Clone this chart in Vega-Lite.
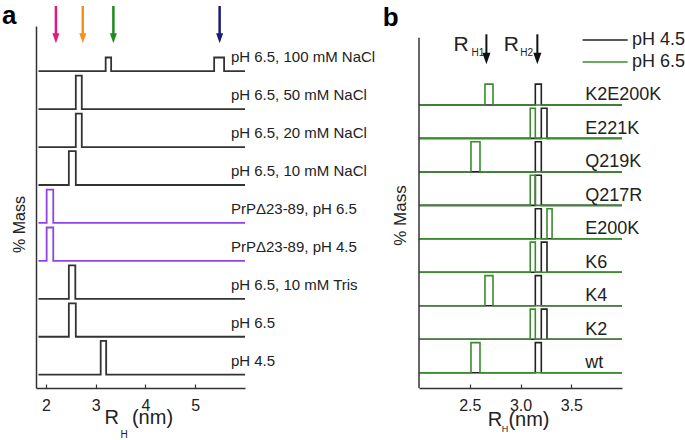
{
"$schema": "https://vega.github.io/schema/vega-lite/v6.json",
"padding": {"left": 1, "top": 3, "right": 0, "bottom": 0},
"background": "white",
"config": {"view": {"stroke": null}, "font": "Liberation Sans", "axis": {"grid": false, "domainColor": "#333", "tickColor": "#333", "labelColor": "#222", "titleColor": "#222", "labelFont": "Liberation Sans", "titleFont": "Liberation Sans"}},
"datasets": {
"tracesA": [
{"s":"pH 6.5, 100 mM NaCl","p":"PrP","i":0,"r":1.85,"y":8},
{"s":"pH 6.5, 100 mM NaCl","p":"PrP","i":1,"r":3.2,"y":8},
{"s":"pH 6.5, 100 mM NaCl","p":"PrP","i":2,"r":3.2,"y":8.36},
{"s":"pH 6.5, 100 mM NaCl","p":"PrP","i":3,"r":3.31,"y":8.36},
{"s":"pH 6.5, 100 mM NaCl","p":"PrP","i":4,"r":3.31,"y":8},
{"s":"pH 6.5, 100 mM NaCl","p":"PrP","i":5,"r":5.38,"y":8},
{"s":"pH 6.5, 100 mM NaCl","p":"PrP","i":6,"r":5.38,"y":8.36},
{"s":"pH 6.5, 100 mM NaCl","p":"PrP","i":7,"r":5.58,"y":8.36},
{"s":"pH 6.5, 100 mM NaCl","p":"PrP","i":8,"r":5.58,"y":8},
{"s":"pH 6.5, 100 mM NaCl","p":"PrP","i":9,"r":6.0,"y":8},
{"s":"pH 6.5, 50 mM NaCl","p":"PrP","i":0,"r":1.85,"y":7},
{"s":"pH 6.5, 50 mM NaCl","p":"PrP","i":1,"r":2.6,"y":7},
{"s":"pH 6.5, 50 mM NaCl","p":"PrP","i":2,"r":2.6,"y":7.88},
{"s":"pH 6.5, 50 mM NaCl","p":"PrP","i":3,"r":2.72,"y":7.88},
{"s":"pH 6.5, 50 mM NaCl","p":"PrP","i":4,"r":2.72,"y":7},
{"s":"pH 6.5, 50 mM NaCl","p":"PrP","i":5,"r":6.0,"y":7},
{"s":"pH 6.5, 20 mM NaCl","p":"PrP","i":0,"r":1.85,"y":6},
{"s":"pH 6.5, 20 mM NaCl","p":"PrP","i":1,"r":2.6,"y":6},
{"s":"pH 6.5, 20 mM NaCl","p":"PrP","i":2,"r":2.6,"y":6.88},
{"s":"pH 6.5, 20 mM NaCl","p":"PrP","i":3,"r":2.72,"y":6.88},
{"s":"pH 6.5, 20 mM NaCl","p":"PrP","i":4,"r":2.72,"y":6},
{"s":"pH 6.5, 20 mM NaCl","p":"PrP","i":5,"r":6.0,"y":6},
{"s":"pH 6.5, 10 mM NaCl","p":"PrP","i":0,"r":1.85,"y":5},
{"s":"pH 6.5, 10 mM NaCl","p":"PrP","i":1,"r":2.46,"y":5},
{"s":"pH 6.5, 10 mM NaCl","p":"PrP","i":2,"r":2.46,"y":5.89},
{"s":"pH 6.5, 10 mM NaCl","p":"PrP","i":3,"r":2.6,"y":5.89},
{"s":"pH 6.5, 10 mM NaCl","p":"PrP","i":4,"r":2.6,"y":5},
{"s":"pH 6.5, 10 mM NaCl","p":"PrP","i":5,"r":6.0,"y":5},
{"s":"PrPΔ23-89, pH 6.5","p":"PrPΔ23-89","i":0,"r":1.85,"y":4},
{"s":"PrPΔ23-89, pH 6.5","p":"PrPΔ23-89","i":1,"r":2.014,"y":4},
{"s":"PrPΔ23-89, pH 6.5","p":"PrPΔ23-89","i":2,"r":2.014,"y":4.88},
{"s":"PrPΔ23-89, pH 6.5","p":"PrPΔ23-89","i":3,"r":2.147,"y":4.88},
{"s":"PrPΔ23-89, pH 6.5","p":"PrPΔ23-89","i":4,"r":2.147,"y":4},
{"s":"PrPΔ23-89, pH 6.5","p":"PrPΔ23-89","i":5,"r":6.0,"y":4},
{"s":"PrPΔ23-89, pH 4.5","p":"PrPΔ23-89","i":0,"r":1.85,"y":3},
{"s":"PrPΔ23-89, pH 4.5","p":"PrPΔ23-89","i":1,"r":2.014,"y":3},
{"s":"PrPΔ23-89, pH 4.5","p":"PrPΔ23-89","i":2,"r":2.014,"y":3.88},
{"s":"PrPΔ23-89, pH 4.5","p":"PrPΔ23-89","i":3,"r":2.147,"y":3.88},
{"s":"PrPΔ23-89, pH 4.5","p":"PrPΔ23-89","i":4,"r":2.147,"y":3},
{"s":"PrPΔ23-89, pH 4.5","p":"PrPΔ23-89","i":5,"r":6.0,"y":3},
{"s":"pH 6.5, 10 mM Tris","p":"PrP","i":0,"r":1.85,"y":2},
{"s":"pH 6.5, 10 mM Tris","p":"PrP","i":1,"r":2.46,"y":2},
{"s":"pH 6.5, 10 mM Tris","p":"PrP","i":2,"r":2.46,"y":2.88},
{"s":"pH 6.5, 10 mM Tris","p":"PrP","i":3,"r":2.59,"y":2.88},
{"s":"pH 6.5, 10 mM Tris","p":"PrP","i":4,"r":2.59,"y":2},
{"s":"pH 6.5, 10 mM Tris","p":"PrP","i":5,"r":6.0,"y":2},
{"s":"pH 6.5","p":"PrP","i":0,"r":1.85,"y":1},
{"s":"pH 6.5","p":"PrP","i":1,"r":2.46,"y":1},
{"s":"pH 6.5","p":"PrP","i":2,"r":2.46,"y":1.88},
{"s":"pH 6.5","p":"PrP","i":3,"r":2.6,"y":1.88},
{"s":"pH 6.5","p":"PrP","i":4,"r":2.6,"y":1},
{"s":"pH 6.5","p":"PrP","i":5,"r":6.0,"y":1},
{"s":"pH 4.5","p":"PrP","i":0,"r":1.85,"y":0},
{"s":"pH 4.5","p":"PrP","i":1,"r":3.1,"y":0},
{"s":"pH 4.5","p":"PrP","i":2,"r":3.1,"y":0.89},
{"s":"pH 4.5","p":"PrP","i":3,"r":3.21,"y":0.89},
{"s":"pH 4.5","p":"PrP","i":4,"r":3.21,"y":0},
{"s":"pH 4.5","p":"PrP","i":5,"r":6.0,"y":0}
],
"tracesB": [
{"s":"K2E200K","pH":"pH 4.5","i":0,"r":2,"y":8},{"s":"K2E200K","pH":"pH 4.5","i":1,"r":3.146,"y":8},{"s":"K2E200K","pH":"pH 4.5","i":2,"r":3.146,"y":8.62},{"s":"K2E200K","pH":"pH 4.5","i":3,"r":3.205,"y":8.62},{"s":"K2E200K","pH":"pH 4.5","i":4,"r":3.205,"y":8},{"s":"K2E200K","pH":"pH 4.5","i":5,"r":4,"y":8},
{"s":"E221K","pH":"pH 4.5","i":0,"r":2,"y":7},{"s":"E221K","pH":"pH 4.5","i":1,"r":3.205,"y":7},{"s":"E221K","pH":"pH 4.5","i":2,"r":3.205,"y":7.9},{"s":"E221K","pH":"pH 4.5","i":3,"r":3.261,"y":7.9},{"s":"E221K","pH":"pH 4.5","i":4,"r":3.261,"y":7},{"s":"E221K","pH":"pH 4.5","i":5,"r":4,"y":7},
{"s":"Q219K","pH":"pH 4.5","i":0,"r":2,"y":6},{"s":"Q219K","pH":"pH 4.5","i":1,"r":3.146,"y":6},{"s":"Q219K","pH":"pH 4.5","i":2,"r":3.146,"y":6.9},{"s":"Q219K","pH":"pH 4.5","i":3,"r":3.205,"y":6.9},{"s":"Q219K","pH":"pH 4.5","i":4,"r":3.205,"y":6},{"s":"Q219K","pH":"pH 4.5","i":5,"r":4,"y":6},
{"s":"Q217R","pH":"pH 4.5","i":0,"r":2,"y":5},{"s":"Q217R","pH":"pH 4.5","i":1,"r":3.146,"y":5},{"s":"Q217R","pH":"pH 4.5","i":2,"r":3.146,"y":5.9},{"s":"Q217R","pH":"pH 4.5","i":3,"r":3.205,"y":5.9},{"s":"Q217R","pH":"pH 4.5","i":4,"r":3.205,"y":5},{"s":"Q217R","pH":"pH 4.5","i":5,"r":4,"y":5},
{"s":"E200K","pH":"pH 4.5","i":0,"r":2,"y":4},{"s":"E200K","pH":"pH 4.5","i":1,"r":3.146,"y":4},{"s":"E200K","pH":"pH 4.5","i":2,"r":3.146,"y":4.9},{"s":"E200K","pH":"pH 4.5","i":3,"r":3.205,"y":4.9},{"s":"E200K","pH":"pH 4.5","i":4,"r":3.205,"y":4},{"s":"E200K","pH":"pH 4.5","i":5,"r":4,"y":4},
{"s":"K6","pH":"pH 4.5","i":0,"r":2,"y":3},{"s":"K6","pH":"pH 4.5","i":1,"r":3.205,"y":3},{"s":"K6","pH":"pH 4.5","i":2,"r":3.205,"y":3.9},{"s":"K6","pH":"pH 4.5","i":3,"r":3.261,"y":3.9},{"s":"K6","pH":"pH 4.5","i":4,"r":3.261,"y":3},{"s":"K6","pH":"pH 4.5","i":5,"r":4,"y":3},
{"s":"K4","pH":"pH 4.5","i":0,"r":2,"y":2},{"s":"K4","pH":"pH 4.5","i":1,"r":3.146,"y":2},{"s":"K4","pH":"pH 4.5","i":2,"r":3.146,"y":2.9},{"s":"K4","pH":"pH 4.5","i":3,"r":3.205,"y":2.9},{"s":"K4","pH":"pH 4.5","i":4,"r":3.205,"y":2},{"s":"K4","pH":"pH 4.5","i":5,"r":4,"y":2},
{"s":"K2","pH":"pH 4.5","i":0,"r":2,"y":1},{"s":"K2","pH":"pH 4.5","i":1,"r":3.205,"y":1},{"s":"K2","pH":"pH 4.5","i":2,"r":3.205,"y":1.9},{"s":"K2","pH":"pH 4.5","i":3,"r":3.261,"y":1.9},{"s":"K2","pH":"pH 4.5","i":4,"r":3.261,"y":1},{"s":"K2","pH":"pH 4.5","i":5,"r":4,"y":1},
{"s":"wt","pH":"pH 4.5","i":0,"r":2,"y":0},{"s":"wt","pH":"pH 4.5","i":1,"r":3.146,"y":0},{"s":"wt","pH":"pH 4.5","i":2,"r":3.146,"y":0.9},{"s":"wt","pH":"pH 4.5","i":3,"r":3.205,"y":0.9},{"s":"wt","pH":"pH 4.5","i":4,"r":3.205,"y":0},{"s":"wt","pH":"pH 4.5","i":5,"r":4,"y":0},
{"s":"K2E200K","pH":"pH 6.5","i":0,"r":2,"y":8},{"s":"K2E200K","pH":"pH 6.5","i":1,"r":2.65,"y":8},{"s":"K2E200K","pH":"pH 6.5","i":2,"r":2.65,"y":8.62},{"s":"K2E200K","pH":"pH 6.5","i":3,"r":2.729,"y":8.62},{"s":"K2E200K","pH":"pH 6.5","i":4,"r":2.729,"y":8},{"s":"K2E200K","pH":"pH 6.5","i":5,"r":4,"y":8},
{"s":"E221K","pH":"pH 6.5","i":0,"r":2,"y":7},{"s":"E221K","pH":"pH 6.5","i":1,"r":3.096,"y":7},{"s":"E221K","pH":"pH 6.5","i":2,"r":3.096,"y":7.9},{"s":"E221K","pH":"pH 6.5","i":3,"r":3.146,"y":7.9},{"s":"E221K","pH":"pH 6.5","i":4,"r":3.146,"y":7},{"s":"E221K","pH":"pH 6.5","i":5,"r":4,"y":7},
{"s":"Q219K","pH":"pH 6.5","i":0,"r":2,"y":6},{"s":"Q219K","pH":"pH 6.5","i":1,"r":2.512,"y":6},{"s":"Q219K","pH":"pH 6.5","i":2,"r":2.512,"y":6.9},{"s":"Q219K","pH":"pH 6.5","i":3,"r":2.601,"y":6.9},{"s":"Q219K","pH":"pH 6.5","i":4,"r":2.601,"y":6},{"s":"Q219K","pH":"pH 6.5","i":5,"r":4,"y":6},
{"s":"Q217R","pH":"pH 6.5","i":0,"r":2,"y":5},{"s":"Q217R","pH":"pH 6.5","i":1,"r":3.096,"y":5},{"s":"Q217R","pH":"pH 6.5","i":2,"r":3.096,"y":5.9},{"s":"Q217R","pH":"pH 6.5","i":3,"r":3.146,"y":5.9},{"s":"Q217R","pH":"pH 6.5","i":4,"r":3.146,"y":5},{"s":"Q217R","pH":"pH 6.5","i":5,"r":4,"y":5},
{"s":"E200K","pH":"pH 6.5","i":0,"r":2,"y":4},{"s":"E200K","pH":"pH 6.5","i":1,"r":3.261,"y":4},{"s":"E200K","pH":"pH 6.5","i":2,"r":3.261,"y":4.9},{"s":"E200K","pH":"pH 6.5","i":3,"r":3.311,"y":4.9},{"s":"E200K","pH":"pH 6.5","i":4,"r":3.311,"y":4},{"s":"E200K","pH":"pH 6.5","i":5,"r":4,"y":4},
{"s":"K6","pH":"pH 6.5","i":0,"r":2,"y":3},{"s":"K6","pH":"pH 6.5","i":1,"r":3.096,"y":3},{"s":"K6","pH":"pH 6.5","i":2,"r":3.096,"y":3.9},{"s":"K6","pH":"pH 6.5","i":3,"r":3.146,"y":3.9},{"s":"K6","pH":"pH 6.5","i":4,"r":3.146,"y":3},{"s":"K6","pH":"pH 6.5","i":5,"r":4,"y":3},
{"s":"K4","pH":"pH 6.5","i":0,"r":2,"y":2},{"s":"K4","pH":"pH 6.5","i":1,"r":2.65,"y":2},{"s":"K4","pH":"pH 6.5","i":2,"r":2.65,"y":2.9},{"s":"K4","pH":"pH 6.5","i":3,"r":2.729,"y":2.9},{"s":"K4","pH":"pH 6.5","i":4,"r":2.729,"y":2},{"s":"K4","pH":"pH 6.5","i":5,"r":4,"y":2},
{"s":"K2","pH":"pH 6.5","i":0,"r":2,"y":1},{"s":"K2","pH":"pH 6.5","i":1,"r":3.096,"y":1},{"s":"K2","pH":"pH 6.5","i":2,"r":3.096,"y":1.9},{"s":"K2","pH":"pH 6.5","i":3,"r":3.146,"y":1.9},{"s":"K2","pH":"pH 6.5","i":4,"r":3.146,"y":1},{"s":"K2","pH":"pH 6.5","i":5,"r":4,"y":1},
{"s":"wt","pH":"pH 6.5","i":0,"r":2,"y":0},{"s":"wt","pH":"pH 6.5","i":1,"r":2.512,"y":0},{"s":"wt","pH":"pH 6.5","i":2,"r":2.512,"y":0.9},{"s":"wt","pH":"pH 6.5","i":3,"r":2.601,"y":0.9},{"s":"wt","pH":"pH 6.5","i":4,"r":2.601,"y":0},{"s":"wt","pH":"pH 6.5","i":5,"r":4,"y":0}
],
"arrowsA": [{"arrow":"1","r":2.2},{"arrow":"2","r":2.74},{"arrow":"3","r":3.355},{"arrow":"4","r":5.49}],
"arrowsB": [{"name":"RH1","r":2.664},{"name":"RH2","r":3.166}]
},
"hconcat": [
{
"width": 209, "height": 362,
"layer": [
{"data": {"name": "tracesA"}, "transform": [{"filter": "datum.p == 'PrP'"}],
 "mark": {"type": "line", "color": "#333333", "strokeWidth": 1.8},
 "encoding": {
  "x": {"field": "r", "type": "quantitative", "scale": {"domain": [1.8, 6.0], "nice": false, "zero": false},
        "axis": {"values": [2, 3, 4, 5], "format": "d", "title": null, "tickSize": -4, "labelPadding": 13, "labelFontSize": 16, "domainWidth": 1.5, "tickWidth": 1.2}},
  "y": {"field": "y", "type": "quantitative", "scale": {"domain": [-0.35, 9.19], "nice": false, "zero": false},
        "axis": {"title": "% Mass", "labels": false, "ticks": false, "domainWidth": 1.5, "titleFontSize": 16, "titleFontWeight": "normal", "titleX": -17, "titleY": 198, "titleAngle": -90, "titleAlign": "center", "titleBaseline": "middle"}},
  "detail": {"field": "s"},
  "order": {"field": "i", "type": "quantitative"}
 }},
{"data": {"name": "tracesA"}, "transform": [{"filter": "datum.p != 'PrP'"}],
 "mark": {"type": "line", "color": "#8e44e6", "strokeWidth": 1.8},
 "encoding": {
  "x": {"field": "r", "type": "quantitative"},
  "y": {"field": "y", "type": "quantitative"},
  "detail": {"field": "s"},
  "order": {"field": "i", "type": "quantitative"}
 }},
{"data": {"name": "tracesA"}, "transform": [{"filter": "datum.i == 0"}],
 "mark": {"type": "text", "align": "left", "baseline": "alphabetic", "dy": -9, "fontSize": 15, "color": "#222222"},
 "encoding": {"x": {"datum": 5.717}, "y": {"field": "y", "type": "quantitative"}, "text": {"field": "s"}}},
{"data": {"name": "arrowsA"},
 "mark": {"type": "rule", "strokeWidth": 2.5},
 "encoding": {"x": {"field": "r", "type": "quantitative"}, "y": {"datum": 9.717}, "y2": {"datum": 8.98},
  "color": {"field": "arrow", "type": "nominal", "scale": {"domain": ["1", "2", "3", "4"], "range": ["#e8177f", "#f5921e", "#1f8a1f", "#1b1b7a"]}, "legend": null}}},
{"data": {"name": "arrowsA"},
 "mark": {"type": "point", "shape": "M-0.7,-1L0.7,-1L0,1Z", "size": 100, "filled": true, "opacity": 1, "strokeWidth": 0},
 "encoding": {"x": {"field": "r", "type": "quantitative"}, "y": {"datum": 8.87},
  "color": {"field": "arrow", "type": "nominal", "legend": null}}},
{"data": {"values": [{}]}, "mark": {"type": "text", "text": "a", "fontSize": 26, "fontWeight": "bold", "align": "left", "baseline": "alphabetic", "color": "#000000"},
 "encoding": {"x": {"datum": 1.116}, "y": {"datum": 9.235}}},
{"data": {"values": [{}]}, "mark": {"type": "text", "text": "R", "fontSize": 20, "align": "left", "baseline": "alphabetic", "color": "#222222"},
 "encoding": {"x": {"datum": 3.175}, "y": {"datum": -1.306}}},
{"data": {"values": [{}]}, "mark": {"type": "text", "text": "H", "fontSize": 10, "align": "left", "baseline": "alphabetic", "color": "#222222"},
 "encoding": {"x": {"datum": 3.497}, "y": {"datum": -1.659}}},
{"data": {"values": [{}]}, "mark": {"type": "text", "text": "(nm)", "fontSize": 20, "align": "left", "baseline": "alphabetic", "color": "#222222"},
 "encoding": {"x": {"datum": 3.728}, "y": {"datum": -1.306}}}
]
},
{
"width": 203, "height": 362,
"layer": [
{"data": {"name": "tracesB"}, "transform": [{"filter": "datum.pH == 'pH 4.5'"}],
 "mark": {"type": "line", "strokeWidth": 1.6},
 "encoding": {
  "x": {"field": "r", "type": "quantitative", "scale": {"domain": [2, 4], "nice": false, "zero": false},
        "axis": {"values": [2.5, 3.0, 3.5], "format": ".1f", "title": null, "tickSize": -4, "labelPadding": 13, "labelFontSize": 16, "domainWidth": 1.5, "tickWidth": 1.2}},
  "y": {"field": "y", "type": "quantitative", "scale": {"domain": [-0.457, 10.358], "nice": false, "zero": false},
        "axis": {"title": "% Mass", "labels": false, "ticks": false, "domain": false, "titleFontSize": 17, "titleFontWeight": "normal", "titleX": -18.3, "titleY": 189, "titleAngle": -90, "titleAlign": "center", "titleBaseline": "middle"}},
  "detail": {"field": "s"},
  "order": {"field": "i", "type": "quantitative"},
  "color": {"field": "pH", "type": "nominal", "scale": {"domain": ["pH 4.5", "pH 6.5"], "range": ["#222222", "#3a8c2e"]},
            "legend": {"title": null, "orient": "none", "legendX": 194, "legendY": 5, "symbolType": "M-7,0L1,0", "symbolSize": 127, "symbolStrokeWidth": 1.6, "labelFontSize": 18, "labelOffset": 1, "rowPadding": 4, "padding": 0, "labelColor": "#222222", "labelFont": "Liberation Sans"}}
 }},
{"data": {"name": "tracesB"}, "transform": [{"filter": "datum.pH == 'pH 6.5'"}],
 "mark": {"type": "line", "strokeWidth": 1.6},
 "encoding": {
  "x": {"field": "r", "type": "quantitative"},
  "y": {"field": "y", "type": "quantitative"},
  "detail": {"field": "s"},
  "order": {"field": "i", "type": "quantitative"},
  "color": {"field": "pH", "type": "nominal"}
 }},
{"data": {"values": [{}]}, "mark": {"type": "rule", "color": "#333333", "strokeWidth": 1.5},
 "encoding": {"x": {"datum": 2}, "y": {"datum": -0.457}, "y2": {"datum": 10.01}}},
{"data": {"name": "tracesB"}, "transform": [{"filter": "datum.i == 0 && datum.pH == 'pH 4.5'"}],
 "mark": {"type": "text", "align": "left", "baseline": "alphabetic", "dy": -4.5, "fontSize": 18, "color": "#222222"},
 "encoding": {"x": {"datum": 3.637}, "y": {"field": "y", "type": "quantitative"}, "text": {"field": "s"}}},
{"data": {"name": "arrowsB"},
 "mark": {"type": "rule", "strokeWidth": 2, "color": "#111111"},
 "encoding": {"x": {"field": "r", "type": "quantitative"}, "y": {"datum": 10.11}, "y2": {"datum": 9.55}}},
{"data": {"name": "arrowsB"},
 "mark": {"type": "point", "shape": "M-0.7,-1L0.7,-1L0,1Z", "size": 135, "filled": true, "opacity": 1, "strokeWidth": 0, "color": "#111111"},
 "encoding": {"x": {"field": "r", "type": "quantitative"}, "y": {"datum": 9.388}}},
{"data": {"values": [{}]}, "mark": {"type": "text", "text": "R", "fontSize": 21, "align": "left", "baseline": "alphabetic", "color": "#222222"},
 "encoding": {"x": {"datum": 2.34}, "y": {"datum": 9.612}}},
{"data": {"values": [{}]}, "mark": {"type": "text", "text": "H1", "fontSize": 10, "align": "left", "baseline": "alphabetic", "color": "#222222"},
 "encoding": {"x": {"datum": 2.517}, "y": {"datum": 9.463}}},
{"data": {"values": [{}]}, "mark": {"type": "text", "text": "R", "fontSize": 21, "align": "left", "baseline": "alphabetic", "color": "#222222"},
 "encoding": {"x": {"datum": 2.835}, "y": {"datum": 9.612}}},
{"data": {"values": [{}]}, "mark": {"type": "text", "text": "H2", "fontSize": 10, "align": "left", "baseline": "alphabetic", "color": "#222222"},
 "encoding": {"x": {"datum": 2.997}, "y": {"datum": 9.463}}},
{"data": {"values": [{}]}, "mark": {"type": "text", "text": "b", "fontSize": 26, "fontWeight": "bold", "align": "left", "baseline": "alphabetic", "color": "#000000"},
 "encoding": {"x": {"datum": 1.642}, "y": {"datum": 10.358}}},
{"data": {"values": [{}]}, "mark": {"type": "text", "text": "R", "fontSize": 20, "align": "left", "baseline": "alphabetic", "color": "#222222"},
 "encoding": {"x": {"datum": 2.677}, "y": {"datum": -1.582}}},
{"data": {"values": [{}]}, "mark": {"type": "text", "text": "H", "fontSize": 9, "align": "left", "baseline": "alphabetic", "color": "#222222"},
 "encoding": {"x": {"datum": 2.815}, "y": {"datum": -1.782}}},
{"data": {"values": [{}]}, "mark": {"type": "text", "text": "(nm)", "fontSize": 20, "align": "left", "baseline": "alphabetic", "color": "#222222"},
 "encoding": {"x": {"datum": 2.881}, "y": {"datum": -1.582}}}
]
}
],
"spacing": 174,
"bounds": "flush",
"resolve": {"scale": {"x": "independent", "y": "independent", "color": "independent"}}
}
